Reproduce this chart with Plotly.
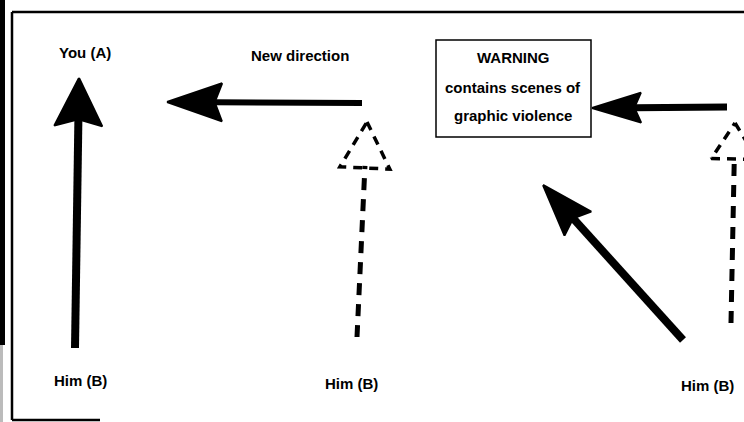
import numpy as np
import plotly.graph_objects as go

# ---- diagram content (image coordinates: x to the right, y downward) ----
solid_tail_x = [75, 362, 727, 683]
solid_tail_y = [348, 103, 107, 340]
solid_tip_x = [79, 167, 592, 543]
solid_tip_y = [78, 102, 108, 185]

dashed_tail_x = [357, 731]
dashed_tail_y = [337, 323]
dashed_tip_x = [367, 735]
dashed_tip_y = [122, 123]

label_texts = ["You (A)", "New direction", "Him (B)", "Him (B)", "Him (B)"]
warning_lines = ["WARNING", "contains scenes of", "graphic violence"]

# ---- styles / layout positions ----
W, H = 744, 422
FONT = "Liberation Sans, Arial, sans-serif"
FS = 15
solid_head_len = [46, 53, 47, 50]
solid_head_half = [24, 19, 15, 18]
solid_width = [8, 6, 7, 8]
dashed_head_len = [44, 34]
dashed_head_half = [25, 23]
label_x = [85, 300, 80, 351, 707]
label_y = [52, 55, 380, 383, 385]
warn_x = 513
warn_y = [57, 87, 115]
box = dict(x0=436, x1=591, y0=40, y1=137)

fig = go.Figure()


def head_points(tx, ty, hx, hy, length, half, notch=0.9):
    d = np.array([hx - tx, hy - ty], dtype=float)
    d /= np.linalg.norm(d)
    p = np.array([-d[1], d[0]])
    tip = np.array([hx, hy], dtype=float)
    base = tip - d * length
    c1 = base + p * half - d * 2
    c2 = base - p * half - d * 2
    nb = tip - d * length * notch
    return tip, c1, nb, c2, base


for i in range(len(solid_tail_x)):
    tip, c1, nb, c2, base = head_points(solid_tail_x[i], solid_tail_y[i], solid_tip_x[i],
                                        solid_tip_y[i], solid_head_len[i], solid_head_half[i])
    fig.add_trace(go.Scatter(x=[solid_tail_x[i], nb[0]], y=[solid_tail_y[i], nb[1]],
                             mode="lines", line=dict(color="black", width=solid_width[i]),
                             hoverinfo="skip", showlegend=False))
    fig.add_trace(go.Scatter(x=[tip[0], c1[0], nb[0], c2[0], tip[0]],
                             y=[tip[1], c1[1], nb[1], c2[1], tip[1]],
                             mode="lines", fill="toself", fillcolor="black",
                             line=dict(color="black", width=2),
                             hoverinfo="skip", showlegend=False))

for i in range(len(dashed_tail_x)):
    tip, c1, nb, c2, base = head_points(dashed_tail_x[i], dashed_tail_y[i], dashed_tip_x[i],
                                        dashed_tip_y[i], dashed_head_len[i], dashed_head_half[i],
                                        notch=1.0)
    fig.add_trace(go.Scatter(x=[dashed_tail_x[i], base[0]], y=[dashed_tail_y[i], base[1]],
                             mode="lines", line=dict(color="black", width=5, dash="12px,9px"),
                             hoverinfo="skip", showlegend=False))
    fig.add_trace(go.Scatter(x=[tip[0], c1[0], c2[0], tip[0]],
                             y=[tip[1], c1[1], c2[1], tip[1]],
                             mode="lines", line=dict(color="black", width=3.5, dash="9px,7px"),
                             hoverinfo="skip", showlegend=False))

for t, x, y in zip(label_texts, label_x, label_y):
    fig.add_annotation(x=x, y=y, text="<b>%s</b>" % t, showarrow=False,
                       font=dict(family=FONT, size=FS, color="black"),
                       xanchor="center", yanchor="middle")

for t, y in zip(warning_lines, warn_y):
    fig.add_annotation(x=warn_x, y=y, text="<b>%s</b>" % t, showarrow=False,
                       font=dict(family=FONT, size=FS, color="black"),
                       xanchor="center", yanchor="middle")

shapes = [
    dict(type="rect", **box, line=dict(color="black", width=1.5)),
    dict(type="rect", x0=0, x1=5, y0=0, y1=345, fillcolor="black", line=dict(width=0)),
    dict(type="rect", x0=0, x1=3, y0=345, y1=422, fillcolor="#bbbbbb", line=dict(width=0)),
    dict(type="line", x0=12, x1=744, y0=12, y1=12, line=dict(color="black", width=2.5)),
    dict(type="line", x0=12, x1=12, y0=12, y1=420, line=dict(color="black", width=2.5)),
    dict(type="line", x0=12, x1=100, y0=420, y1=420, line=dict(color="black", width=2.5)),
]
for s in shapes:
    s.update(xref="x", yref="y")
fig.update_layout(shapes=shapes)

fig.update_layout(
    width=W, height=H, margin=dict(l=0, r=0, t=0, b=0),
    paper_bgcolor="white", plot_bgcolor="white",
    xaxis=dict(range=[0, W], visible=False, fixedrange=True),
    yaxis=dict(range=[H, 0], visible=False, fixedrange=True),
    showlegend=False,
)
fig.write_html("out.html", config={"displayModeBar": False},
               post_script="document.body.style.margin='0';document.body.style.overflow='hidden';")
